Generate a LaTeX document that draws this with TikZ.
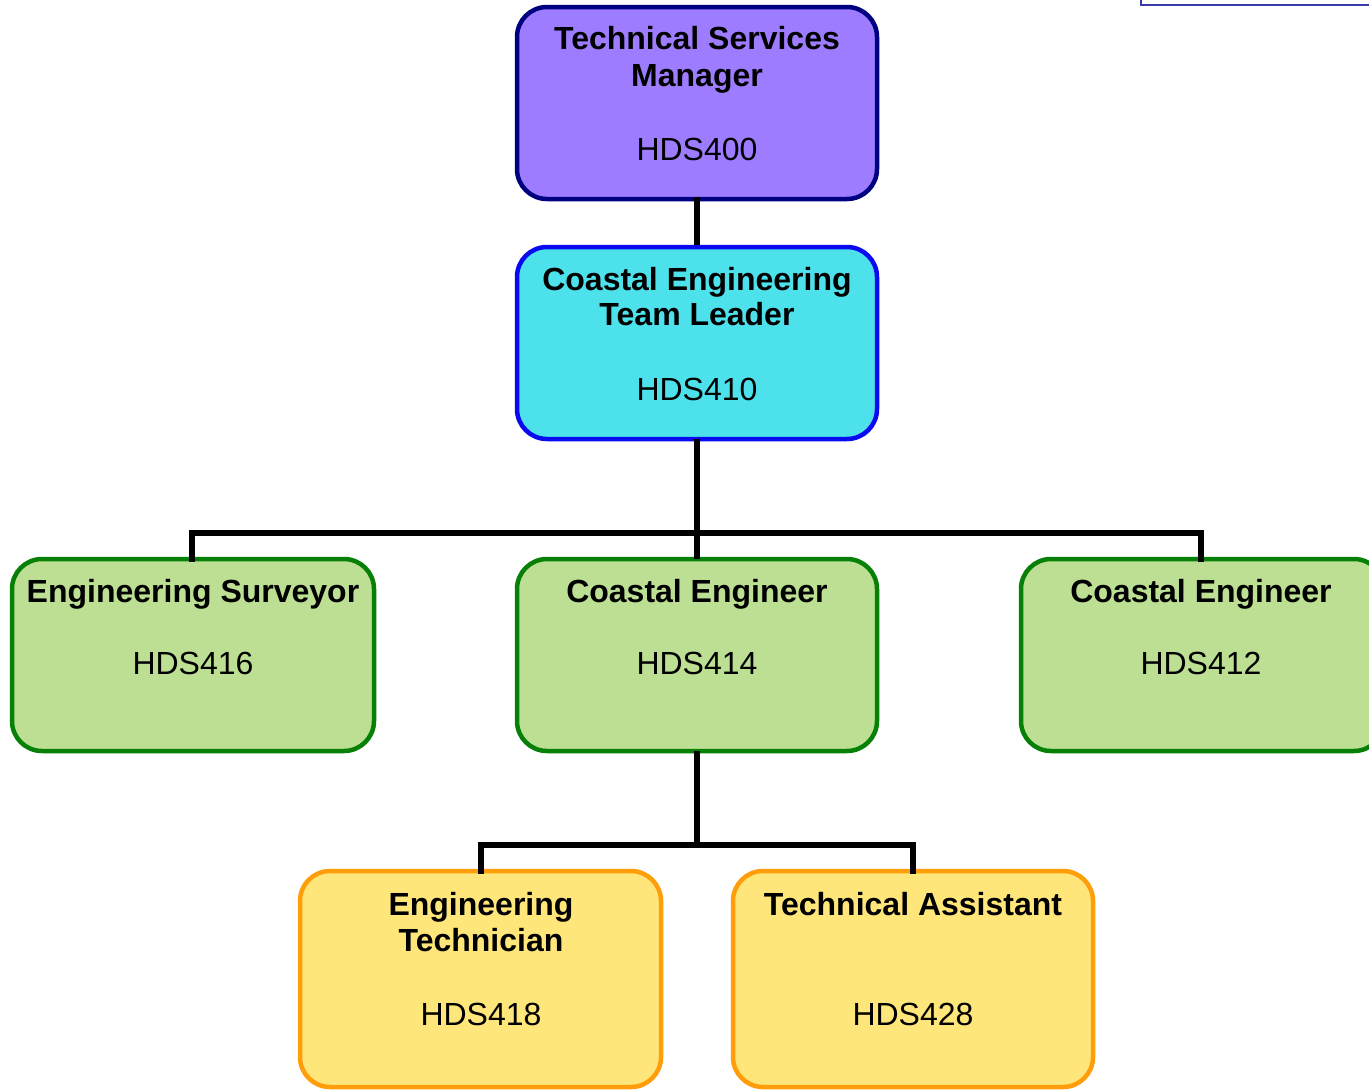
\documentclass[tikz,border=0pt]{standalone}
\usepackage{fontspec}
\setmainfont{Liberation Sans}
\definecolor{purpfill}{HTML}{9E7CFF}
\definecolor{purpline}{HTML}{000080}
\definecolor{cyanfill}{HTML}{4DE1EC}
\definecolor{cyanline}{HTML}{0A0AF0}
\definecolor{grnfill}{HTML}{BCDF93}
\definecolor{grnline}{HTML}{078007}
\definecolor{yelfill}{HTML}{FFE67A}
\definecolor{yelline}{HTML}{FF9E0A}
\definecolor{cornerline}{HTML}{3A3AA8}
\begin{document}
\begin{tikzpicture}[x=1pt,y=-1pt,
  box/.style={draw,line width=4.5pt,rounded corners=30pt,inner sep=0pt},
  lbl/.style={anchor=base,inner sep=0pt,font=\fontsize{32}{36}\selectfont\bfseries},
  code/.style={anchor=base,inner sep=0pt,font=\fontsize{32}{36}\selectfont},
  conn/.style={line width=6pt,draw=black}]
\clip (0,0) rectangle (1369,1090);
\useasboundingbox (0,0) rectangle (1369,1090);
% boxes
\path[box,draw=purpline,fill=purpfill] (517,7) rectangle (877,199);
\node[minimum width=360pt,minimum height=192pt] (tsm) at (697,103) {};
\path[box,draw=cyanline,fill=cyanfill] (517,247) rectangle (877,439);
\node[minimum width=360pt,minimum height=192pt] (cetl) at (697,343) {};
\path[box,draw=grnline,fill=grnfill] (12,559) rectangle (374,751);
\node[minimum width=362pt,minimum height=192pt] (es) at (193,655) {};
\path[box,draw=grnline,fill=grnfill] (517,559) rectangle (877,751);
\node[minimum width=360pt,minimum height=192pt] (ce414) at (697,655) {};
\path[box,draw=grnline,fill=grnfill] (1021,559) rectangle (1384,751);
\node[minimum width=363pt,minimum height=192pt] (ce412) at (1202,655) {};
\path[box,draw=yelline,fill=yelfill] (300,871) rectangle (661,1087);
\node[minimum width=361pt,minimum height=216pt] (et) at (481,979) {};
\path[box,draw=yelline,fill=yelfill] (733,871) rectangle (1093,1087);
\node[minimum width=360pt,minimum height=216pt] (ta) at (913,979) {};
% connectors
\coordinate (j1) at (697,533);
\coordinate (j2) at (697,845);
\draw[conn] (tsm.south) ++(0,-2) -- ([yshift=2pt]cetl.north);
\draw[conn] (cetl.south) -- (j1);
\draw[conn,line cap=rect] (es.north -| 192,0) |- (j1) -| (ce412.north -| 1201,0);
\draw[conn] (j1) -- (ce414.north);
\draw[conn] (ce414.south) -- (j2);
\draw[conn,line cap=rect] (et.north) |- (j2) -| (ta.north);
% texts
\node[lbl] (t1a) at (697,49) {Technical Services};
\node[lbl] (t1b) at (697,86) {Manager};
\node[code] (t1c) at (697,160) {HDS400};
\node[lbl] (t2a) at (697,290) {Coastal Engineering};
\node[lbl] (t2b) at (697,325) {Team Leader};
\node[code] (t2c) at (697,400) {HDS410};
\node[lbl] (t3a) at (193,602) {Engineering Surveyor};
\node[code] (t3c) at (193,674) {HDS416};
\node[lbl] (t4a) at (697,602) {Coastal Engineer};
\node[code] (t4c) at (697,674) {HDS414};
\node[lbl] (t5a) at (1201,602) {Coastal Engineer};
\node[code] (t5c) at (1201,674) {HDS412};
\node[lbl] (t6a) at (481,915) {Engineering};
\node[lbl] (t6b) at (481,951) {Technician};
\node[code] (t6c) at (481,1025) {HDS418};
\node[lbl] (t7a) at (913,915) {Technical Assistant};
\node[code] (t7c) at (913,1025) {HDS428};
% partial frame top right
\coordinate (fr1) at (1141,-5);
\coordinate (fr2) at (1141,5);
\coordinate (fr3) at (1380,5);
\draw[cornerline,line width=2.5pt] (fr1) -- (fr2) -- (fr3);
\end{tikzpicture}
\end{document}
